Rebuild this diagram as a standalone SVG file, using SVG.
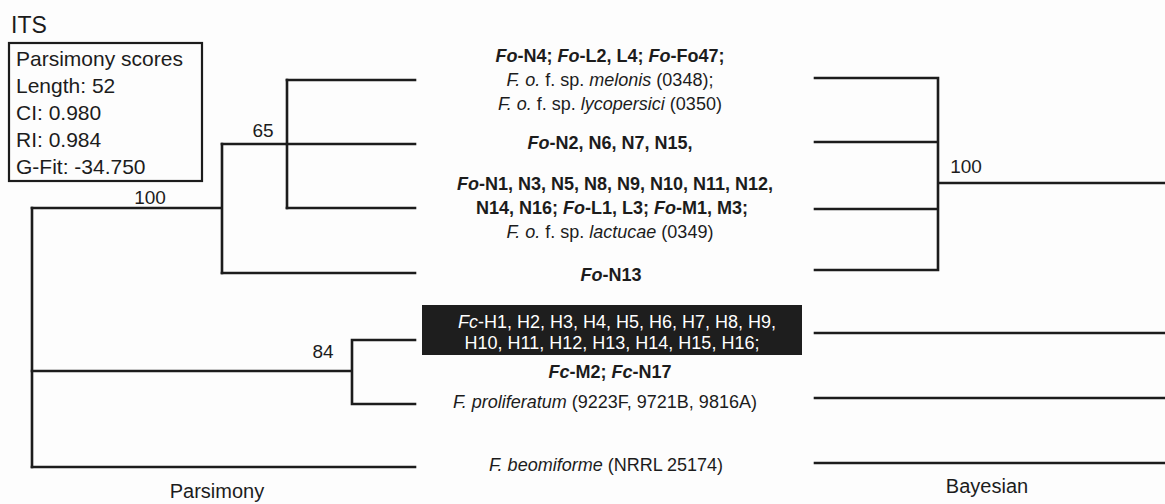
<svg xmlns="http://www.w3.org/2000/svg" width="1165" height="504" viewBox="0 0 1165 504">
  <style>
    text { font-family: "Liberation Sans", Arial, sans-serif; fill: #1c1c1c; }
    .lbl { font-size: 18px; text-anchor: middle; }
    .b { font-weight: bold; }
    .i { font-style: italic; }
    .score { font-size: 21px; }
    .sup { font-size: 19px; text-anchor: middle; }
    .inv { fill: #ffffff; }
    .br { stroke: #1c1c1c; stroke-width: 2.6; fill: none; stroke-linecap: square; }
  </style>
  <rect width="1165" height="504" fill="#fdfdfd"/>

  <!-- title and score box -->
  <g id="title">
    <text x="11" y="33" font-size="23">ITS</text>
  </g>
  <g id="scores">
    <rect x="9" y="43" width="193" height="138" fill="none" stroke="#1c1c1c" stroke-width="2.2"/>
    <text class="score" x="16" y="66">Parsimony scores</text>
    <text class="score" x="16" y="93">Length: 52</text>
    <text class="score" x="16" y="120">CI: 0.980</text>
    <text class="score" x="16" y="147">RI: 0.984</text>
    <text class="score" x="16" y="174">G-Fit: -34.750</text>
  </g>

  <!-- tree branches -->
  <g id="connectors" class="br">
    <!-- parsimony tree -->
    <path d="M32 208 V467"/>
    <path d="M32 208 H222 M222 144 V273"/>
    <path d="M222 144 H287 M287 80 V208"/>
    <path d="M287 80 H415 M287 144 H415 M287 208 H415 M222 273 H415"/>
    <path d="M32 371 H352 M352 340 V404 M352 340 H415 M352 404 H415"/>
    <path d="M32 467 H415"/>
    <!-- bayesian tree -->
    <path d="M815 78 H938 M815 142 H938 M815 209 H938 M815 270 H938 M938 78 V270 M938 183 H1165"/>
    <path d="M815 333 H1165 M815 398 H1165 M815 463 H1165"/>
  </g>

  <!-- support values -->
  <g id="support">
    <text class="sup" x="150" y="204">100</text>
    <text class="sup" x="263" y="137">65</text>
    <text class="sup" x="323" y="358">84</text>
    <text class="sup" x="966" y="173">100</text>
  </g>

  <!-- taxa -->
  <g id="taxon-fo-n4">
    <text class="lbl b" x="610" y="62"><tspan class="i">Fo</tspan>-N4; <tspan class="i">Fo</tspan>-L2, L4; <tspan class="i">Fo</tspan>-Fo47;</text>
    <text class="lbl" x="610" y="86"><tspan class="i">F. o.</tspan> f. sp. <tspan class="i">melonis</tspan> (0348);</text>
    <text class="lbl" x="610" y="110"><tspan class="i">F. o.</tspan> f. sp. <tspan class="i">lycopersici</tspan> (0350)</text>
  </g>
  <g id="taxon-fo-n2">
    <text class="lbl b" x="610" y="149"><tspan class="i">Fo</tspan>-N2, N6, N7, N15,</text>
  </g>
  <g id="taxon-fo-n1">
    <text class="lbl b" x="615" y="190"><tspan class="i">Fo</tspan>-N1, N3, N5, N8, N9, N10, N11, N12,</text>
    <text class="lbl b" x="612" y="214">N14, N16; <tspan class="i">Fo</tspan>-L1, L3; <tspan class="i">Fo</tspan>-M1, M3;</text>
    <text class="lbl" x="610" y="238"><tspan class="i">F. o.</tspan> f. sp. <tspan class="i">lactucae</tspan> (0349)</text>
  </g>
  <g id="taxon-fo-n13">
    <text class="lbl b" x="611" y="281"><tspan class="i">Fo</tspan>-N13</text>
  </g>
  <g id="taxon-fc">
    <rect x="422" y="305" width="380" height="50" fill="#1e1e1e"/>
    <text class="lbl inv" x="617" y="328"><tspan class="i">Fc</tspan>-H1, H2, H3, H4, H5, H6, H7, H8, H9,</text>
    <text class="lbl inv" x="612" y="349">H10, H11, H12, H13, H14, H15, H16;</text>
    <text class="lbl b" x="610" y="378"><tspan class="i">Fc</tspan>-M2; <tspan class="i">Fc</tspan>-N17</text>
  </g>
  <g id="taxon-proliferatum">
    <text class="lbl" x="605" y="408"><tspan class="i">F. proliferatum</tspan> (9223F, 9721B, 9816A)</text>
  </g>
  <g id="taxon-beomiforme">
    <text class="lbl" x="606" y="471"><tspan class="i">F. beomiforme</tspan> (NRRL 25174)</text>
  </g>

  <!-- method captions -->
  <g id="captions">
    <text x="217" y="498" font-size="20" text-anchor="middle">Parsimony</text>
    <text x="987" y="493" font-size="20" text-anchor="middle">Bayesian</text>
  </g>
</svg>
